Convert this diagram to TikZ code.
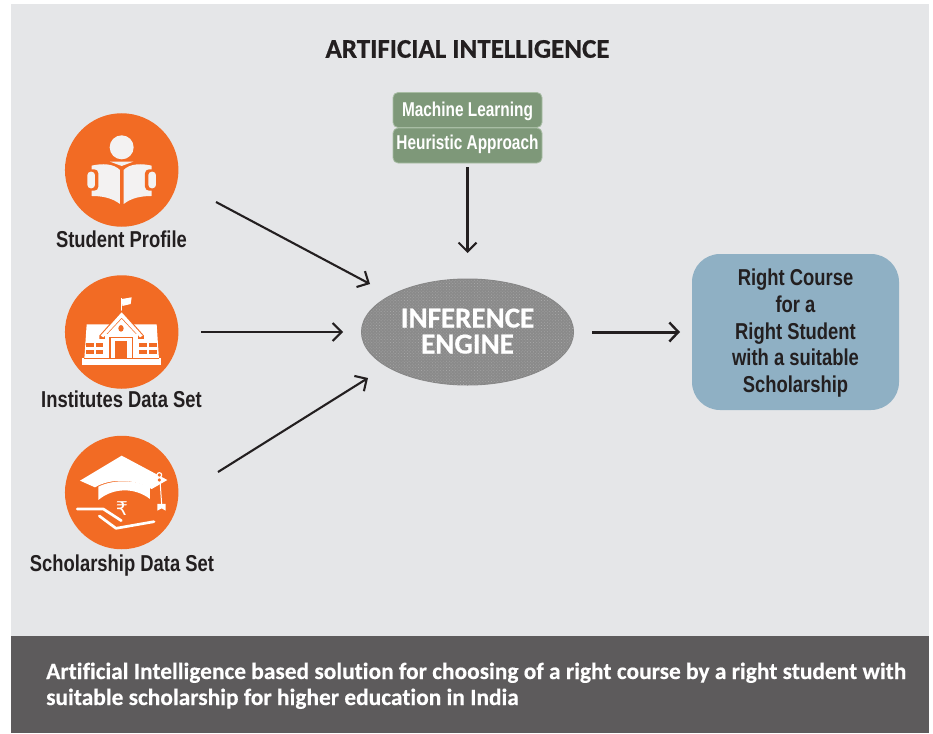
\documentclass[tikz,border=0pt]{standalone}
\usepackage{fontspec}
\usetikzlibrary{arrows.meta,shapes.geometric,patterns.meta}
\setmainfont{Liberation Sans}
\newfontfamily\narrowbold[FakeStretch=0.8]{Liberation Sans Bold}
\newfontfamily\greenbold[FakeStretch=0.77]{Liberation Sans Bold}
\newfontfamily\myriadbold[FakeBold=0.6]{Carlito Bold}
\newfontfamily\captionbold[FakeBold=0.3,Ligatures=NoCommon]{Carlito Bold}
\newfontfamily\rupeefont{DejaVu Sans}
\definecolor{panel}{HTML}{E5E6E8}
\definecolor{footer}{HTML}{5D5B5C}
\definecolor{ink}{HTML}{231F20}
\definecolor{icon}{HTML}{F26B24}
\definecolor{iconlt}{HTML}{F3F2F2}
\definecolor{greenbox}{HTML}{7E9879}
\definecolor{greenedge}{HTML}{A8BDA4}
\definecolor{bluebox}{HTML}{8FB0C4}
\definecolor{engine}{HTML}{8A8A8A}
\definecolor{enginedot}{HTML}{A6A6A6}
\definecolor{engineedge}{HTML}{858585}
\tikzset{
  x=1pt,y=-1pt,
  iconbg/.style={circle,fill=icon,draw=none,minimum size=113.5pt,inner sep=0pt},
  lab/.style={font=\narrowbold\fontsize{23}{24}\selectfont,text=ink,inner sep=0pt,anchor=base},
  greenlab/.style={rectangle,rounded corners=5pt,fill=greenbox,draw=greenedge,line width=0.8pt,
     minimum width=149pt,minimum height=35pt,inner sep=0pt,text=white,
     font=\greenbold\fontsize{20}{22}\selectfont},
  conn/.style={draw=ink,line width=2.1pt,-{Straight Barb[length=9pt,width=18pt,line width=2.1pt]}},
  thick conn/.style={draw=ink,line width=3pt,-{Straight Barb[length=9pt,width=19pt,line width=2.4pt]}},
}
\begin{document}
\begin{tikzpicture}
\useasboundingbox (0,0) rectangle (933,733);
\fill[white] (0,0) rectangle (933,733);
\fill[panel] (11,4) rectangle (929,636);
\fill[footer] (11,636) rectangle (929,733);

\node[font=\myriadbold\fontsize{27}{30}\selectfont,text=ink,inner sep=0pt] (title) at (467.5,49) {ARTIFICIAL INTELLIGENCE};

% icon circles
\node[iconbg] (student) at (121.7,170) {};
\node[iconbg] (institutes) at (121.7,332) {};
\node[iconbg] (scholarship) at (121.7,492.5) {};

% student icon
\begin{scope}[shift={(50,100)},x=0.3333pt,y=-0.3333pt]
  \fill[iconlt] (215,142) circle[radius=36];
  \fill[iconlt] (180,185) -- (250,185) -- (215,198) -- cycle;
  \fill[iconlt] (125,197) .. controls (155,190) and (190,190) .. (210,210) -- (210,312) .. controls (185,293) and (155,288) .. (125,288) -- cycle;
  \fill[iconlt] (305,197) .. controls (275,190) and (240,190) .. (221,210) -- (221,312) .. controls (245,293) and (275,288) .. (305,288) -- cycle;
  \fill[icon,rounded corners=4pt] (105,208) rectangle (145,272);
  \fill[icon,rounded corners=4pt] (285,208) rectangle (325,272);
  \fill[iconlt,rounded corners=3.5pt] (112,215) rectangle (135,265);
  \fill[iconlt,rounded corners=3.5pt] (295,215) rectangle (318,265);
\end{scope}

% school icon
\begin{scope}[shift={(50,265)},x=0.3333pt,y=-0.3333pt]
  \fill[white] (212,100) rectangle (217,145);
  \fill[white] (216,102) -- (245,97) -- (242,117) -- (217,123) -- cycle;
  \fill[white] (97,280) rectangle (333,300);
  \fill[white] (103,282) -- (110,178) -- (320,178) -- (327,282) -- cycle;
  \fill[icon] (107,233) rectangle (132,245);
  \fill[icon] (137,233) rectangle (160,245);
  \fill[icon] (107,255) rectangle (132,267);
  \fill[icon] (137,255) rectangle (160,267);
  \fill[icon] (268,233) rectangle (290,245);
  \fill[icon] (298,233) rectangle (320,245);
  \fill[icon] (268,255) rectangle (290,267);
  \fill[icon] (298,255) rectangle (320,267);
  \fill[icon] (148,212) -- (215,136) -- (282,212) -- (282,222) -- (148,222) -- cycle;
  \fill[white] (152,212) -- (215,142) -- (278,212) -- (270,217) -- (215,158) -- (160,217) -- cycle;
  \fill[white] (168,212) -- (215,162) -- (262,212) -- cycle;
  \fill[white] (165,208) rectangle (265,282);
  \fill[icon] (213,190) ellipse[x radius=8,y radius=10];
  \fill[icon] (178,215) rectangle (250,219);
  \fill[icon] (178,215) rectangle (182,280);
  \fill[icon] (246,215) rectangle (250,280);
  \fill[icon] (195,228) rectangle (230,280);
  \fill[icon] (103,278) rectangle (327,280);
\end{scope}

% scholarship icon
\begin{scope}[shift={(50,430)},x=0.3333pt,y=-0.3333pt]
  \fill[white] (90,152) -- (215,77) -- (352,150) -- (305,177) .. controls (250,145) and (180,145) .. (135,172) -- cycle;
  \fill[white] (145,170) .. controls (190,148) and (255,148) .. (300,172) -- (300,207) .. controls (255,172) and (190,172) .. (145,210) -- cycle;
  \draw[white,line width=1pt] (330,150) -- (335,222);
  \draw[white,line width=1.2pt,fill=icon] (328,135) circle[radius=7];
  \draw[white,line width=1.2pt,fill=icon] (328,150) circle[radius=7];
  \fill[white] (322,242) -- (322,222) -- (347,222) -- (347,242) -- (335,235) -- cycle;
  \node[font=\rupeefont\fontsize{19}{19}\selectfont,text=white,inner sep=0pt] (rupee) at (216,236) {₹};
  \draw[white,line width=2.7pt,line cap=round,line join=round] (82,237) -- (160,237) -- (214,272);
  \draw[white,line width=2.7pt,line cap=round,line join=round] (148,258) -- (198,295) -- (312,275);
\end{scope}

% icon labels
\node[lab] (studentlab) at (121.5,247) {Student Profile};
\node[lab] (institutelab) at (121.5,407) {Institutes Data Set};
\node[lab] (scholarlab) at (122,571) {Scholarship Data Set};

% method boxes
\node[greenlab,text height=14.5pt,text depth=2pt] (ml) at (467.5,110) {Machine Learning};
\node[greenlab,text height=14.5pt,text depth=7pt] (ha) at (467.5,145.5) {Heuristic Approach};

% engine
\node[ellipse,fill=engine,draw=engineedge,line width=1pt,minimum width=212pt,minimum height=106pt,inner sep=0pt,
      postaction={pattern={Dots[distance=2.2pt,radius=0.55pt,angle=45]},pattern color=enginedot},
      align=center,text=white,font=\myriadbold\fontsize{29}{26}\selectfont] (eng) at (467.5,332) {INFERENCE\\ENGINE\rule[-2pt]{0pt}{2pt}};

% result
\node[rectangle,rounded corners=28pt,fill=bluebox,minimum width=207pt,minimum height=156pt,inner sep=0pt,
      align=center,text=ink,font=\narrowbold\fontsize{23}{26.8}\selectfont] (result) at (795.5,332)
      {\rule{0pt}{19pt}Right Course\\for a\\Right Student\\with a suitable\\Scholarship};

% connector ends
\coordinate (s1) at (216,202);
\coordinate (e1) at (370,284);
\coordinate (s2) at (201,332);
\coordinate (e2) at (343,332);
\coordinate (s3) at (218,472);
\coordinate (e3) at (368,378);
\coordinate (s4) at (467.5,167);
\coordinate (e4) at (467.5,253);
\coordinate (s5) at (592,332);
\coordinate (e5) at (680,332);
\draw[conn] (s1) -- (e1);
\draw[conn] (s2) -- (e2);
\draw[conn] (s3) -- (e3);
\draw[conn,line width=2.3pt] (s4) -- (e4);
\draw[thick conn] (s5) -- (e5);

% caption
\node[font=\captionbold\fontsize{23.4}{26}\selectfont,text=white,align=left,anchor=base west,inner sep=0pt] (caption) at (46,705)
 {Artificial Intelligence based solution for choosing of a right course by a right student with\\suitable scholarship for higher education in India};
\end{tikzpicture}
\end{document}
